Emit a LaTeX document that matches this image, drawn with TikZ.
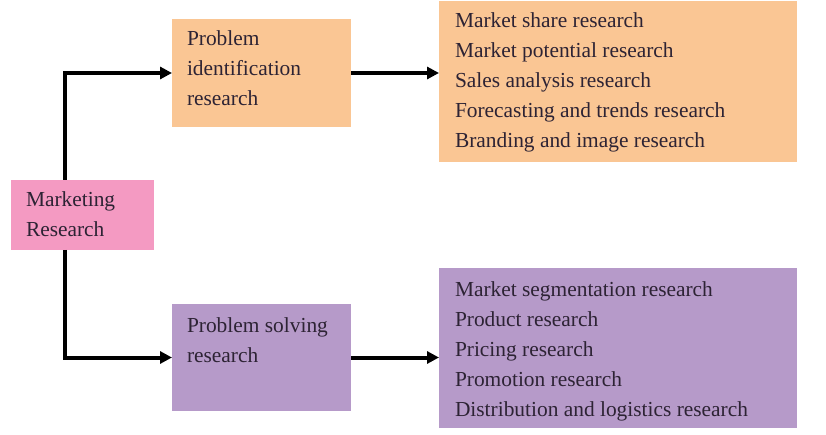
\documentclass[tikz,border=0pt]{standalone}
\usepackage{fontspec}
\setmainfont{Liberation Serif}
\usetikzlibrary{arrows.meta}
\definecolor{peach}{RGB}{250,198,148}
\definecolor{pinkbox}{RGB}{244,154,194}
\definecolor{lilac}{RGB}{182,154,201}
\definecolor{txt}{RGB}{45,35,52}
\tikzset{
  box/.style={inner sep=0pt, outer sep=0pt, anchor=north west},
  lbl/.style={anchor=base west, inner sep=0pt, outer sep=0pt, text=txt,
              font=\fontsize{21.4}{30}\selectfont},
  conn/.style={line width=4pt, -{Triangle[length=12pt,width=12pt]}}
}
\begin{document}
\begin{tikzpicture}[x=1pt,y=-1pt]
\useasboundingbox (0,0) rectangle (826,435);
% boxes
\node[box, fill=pinkbox, minimum width=143pt, minimum height=70pt] (mr) at (11,180) {};
\node[box, fill=peach, minimum width=179pt, minimum height=108pt] (pi) at (172,19) {};
\node[box, fill=lilac, minimum width=179pt, minimum height=107pt] (ps) at (172,304) {};
\node[box, fill=peach, minimum width=358pt, minimum height=161pt] (tr) at (439,1) {};
\node[box, fill=lilac, minimum width=358pt, minimum height=160pt] (br) at (439,268) {};
% texts
\node[lbl] (mrt) at (26,207) {\begin{tabular}[t]{@{}l@{}}Marketing\\Research\end{tabular}};
\node[lbl] (pit) at (187,46) {\begin{tabular}[t]{@{}l@{}}Problem\\identification\\research\end{tabular}};
\node[lbl] (pst) at (187,332) {\begin{tabular}[t]{@{}l@{}}Problem solving\\research\end{tabular}};
\node[lbl] (trt) at (455,28) {\begin{tabular}[t]{@{}l@{}}Market share research\\Market potential research\\Sales analysis research\\Forecasting and trends research\\Branding and image research\end{tabular}};
\node[lbl] (brt) at (455,296) {\begin{tabular}[t]{@{}l@{}}Market segmentation research\\Product research\\Pricing research\\Promotion research\\Distribution and logistics research\end{tabular}};
% connectors
\coordinate (vx) at (65,0);
\draw[conn] (mr.north -| vx) |- (pi.west);
\draw[conn] (mr.south -| vx) |- (ps.west);
\draw[conn] (pi.east) -- (tr.west |- pi.east);
\draw[conn] (ps.east) -- (br.west |- ps.east);
\end{tikzpicture}
\end{document}
